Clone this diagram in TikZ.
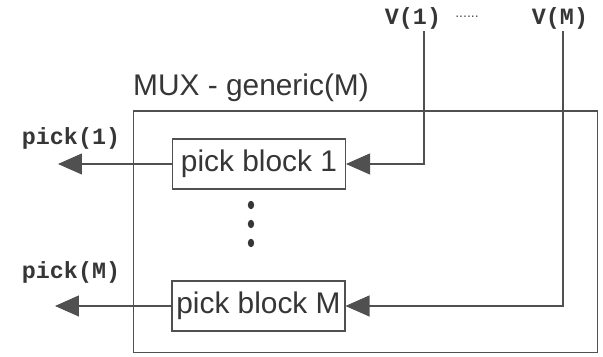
\documentclass[tikz,border=0pt]{standalone}
\usepackage{fontspec}
\setmainfont{Liberation Sans}
\setmonofont{Liberation Mono}
\usepackage{xcolor}
\usetikzlibrary{positioning,arrows.meta}
\definecolor{inkgray}{HTML}{363636}
\definecolor{linegray}{HTML}{505050}

\begin{document}
\begin{tikzpicture}[x=0.02cm,y=-0.02cm,
  blockbox/.style={draw=linegray, line width=0.6pt, minimum width=3.46cm,
    minimum height=1cm, inner sep=0pt, font=\fontsize{17}{20}\selectfont, text=inkgray},
  sig/.style={draw=linegray, line width=0.6pt,
    -{Triangle[length=0.48cm,width=0.42cm]}, color=linegray},
  busname/.style={font=\ttfamily\bfseries\fontsize{13.3}{15}\selectfont, text=inkgray}]
\useasboundingbox (0,0) rectangle (603,357);

% outer generic mux
\node[draw=linegray, line width=0.6pt, minimum width=9.3cm, minimum height=4.84cm,
      inner sep=0pt] (mux) at (365.5,232) {};
\node[font=\fontsize{17}{20}\selectfont, text=inkgray] (muxname) at (251,88) {MUX - generic(M)};

% pick blocks
\node[blockbox] (pb1) at (259,164) {pick block 1};
\node[blockbox] (pbM) at (258.5,306) {pick block M};
\foreach \y in {205,224,243} \fill[inkgray] (251,\y) ellipse (3.2 and 4.2);

% inputs
\node[busname] (v1) at (413,18) {V(1)};
\node[busname] (vM) at (560,18) {V(M)};
\node[text=linegray, font=\fontsize{8}{9}\selectfont] (vdots) at (467,17) {......};
\coordinate (v1top) at (424,31);
\coordinate (vMtop) at (563,31);
\draw[sig] (v1top) |- (pb1.east);
\draw[sig] (vMtop) |- (pbM.east);

% outputs
\node[busname] (p1) at (71,138) {pick(1)};
\node[busname] (pM) at (71,272) {pick(M)};
\coordinate (out1) at (58,164);
\coordinate (outM) at (55,306);
\draw[sig] (pb1.west) -- (out1);
\draw[sig] (pbM.west) -- (outM);
\end{tikzpicture}
\end{document}
